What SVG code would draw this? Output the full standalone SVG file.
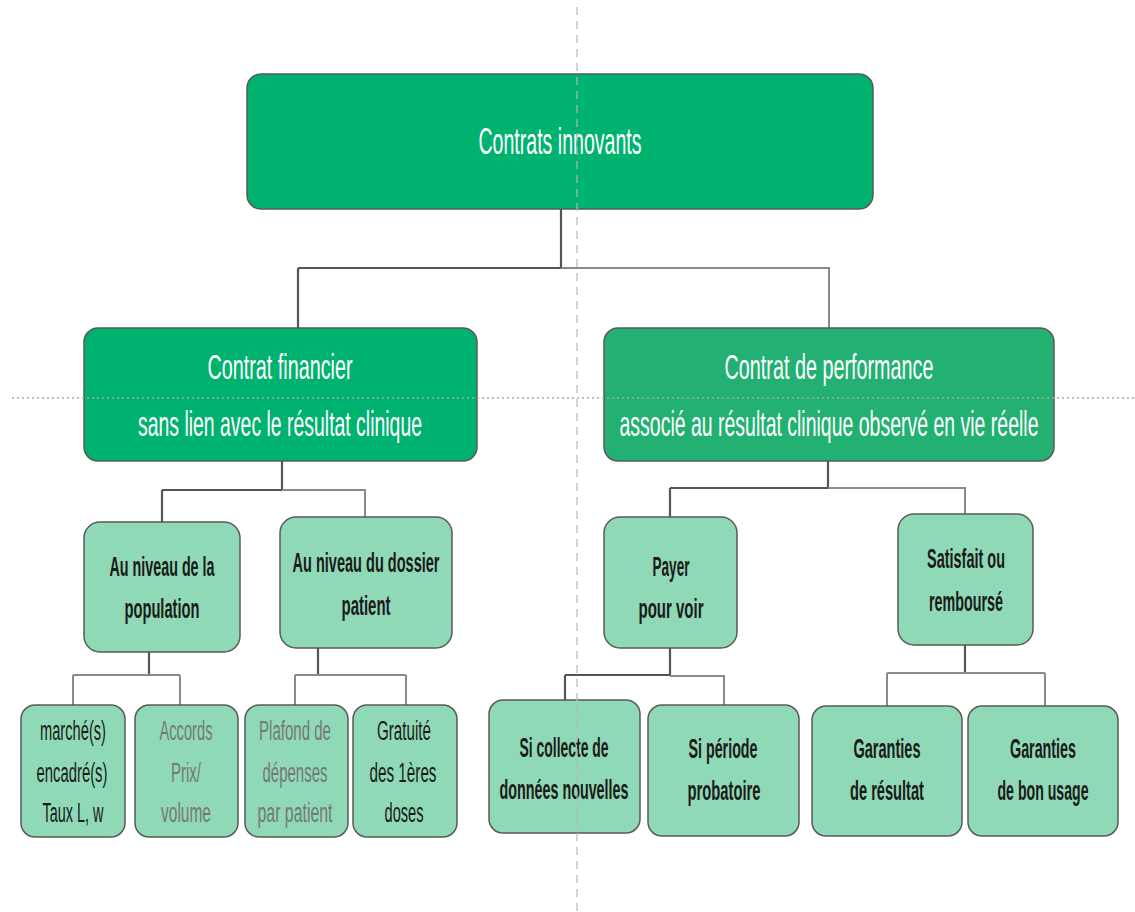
<svg xmlns="http://www.w3.org/2000/svg" width="1135" height="912" viewBox="0 0 1135 912">
<style>
.dk{fill:#00B26F;stroke:#5a5a5a;stroke-width:1.5}
.dk2{fill:#22B172;stroke:#5a5a5a;stroke-width:1.5}
.lt{fill:#8FD9B6;stroke:#5a5a5a;stroke-width:1.5}
.tw{font-family:"Liberation Sans",Arial,sans-serif;fill:#ffffff;text-anchor:middle}
.tb{font-family:"Liberation Sans",Arial,sans-serif;fill:#1a1a1a;text-anchor:middle;font-size:27px;font-weight:bold}
.tr{font-family:"Liberation Sans",Arial,sans-serif;fill:#1a1a1a;text-anchor:middle;font-size:27px}
.tg{font-family:"Liberation Sans",Arial,sans-serif;fill:#777777;text-anchor:middle;font-size:27px}
.ln{fill:none;stroke:#555555;stroke-width:2.2}
.ln2{fill:none;stroke:#8a8a8a;stroke-width:2}
</style>
<rect width="1135" height="912" fill="#ffffff"/>
<g id="connectors">
<path class="ln" d="M561,209 V268 M298,268 H561 M298,268 V328"/>
<path class="ln2" d="M561,268 H829 V328"/>
<path class="ln" d="M282,461 V490 M162,490 H282 M162,490 V522"/>
<path class="ln2" d="M282,490 H365 V517"/>
<path class="ln" d="M828,461 V488 M670,488 H828 M670,488 V517"/>
<path class="ln2" d="M828,488 H965 V514"/>
<path class="ln" d="M149,652 V675"/>
<path class="ln2" d="M73,675 H180 M73,675 V705 M180,675 V705"/>
<path class="ln" d="M318,648 V675"/>
<path class="ln2" d="M295,675 H406 M295,675 V705 M406,675 V705"/>
<path class="ln" d="M670,648 V675 M565,675 H670 M565,675 V700"/>
<path class="ln2" d="M670,676 H724 V705"/>
<path class="ln" d="M965,645 V673"/>
<path class="ln2" d="M887,673 H1045 M887,673 V706 M1045,673 V706"/>
</g>
<g id="n-root"><rect class="dk" x="247" y="74" width="626" height="135" rx="14"/>
<text class="tw" x="560" y="154" font-size="37" textLength="163" lengthAdjust="spacingAndGlyphs">Contrats innovants</text></g>
<g id="n-financier"><rect class="dk" x="84" y="328" width="393" height="133" rx="14"/>
<text class="tw" x="280" y="379" font-size="35" textLength="145" lengthAdjust="spacingAndGlyphs">Contrat financier</text>
<text class="tw" x="280" y="436" font-size="35" textLength="284" lengthAdjust="spacingAndGlyphs">sans lien avec le résultat clinique</text></g>
<g id="n-performance"><rect class="dk2" x="604" y="328" width="450" height="133" rx="14"/>
<text class="tw" x="829" y="379" font-size="35" textLength="209" lengthAdjust="spacingAndGlyphs">Contrat de performance</text>
<text class="tw" x="829" y="436" font-size="35" textLength="419" lengthAdjust="spacingAndGlyphs">associé au résultat clinique observé en vie réelle</text></g>
<g id="n-population"><rect class="lt" x="84" y="522" width="156" height="130" rx="16"/>
<text class="tb" x="162" y="576" textLength="105" lengthAdjust="spacingAndGlyphs">Au niveau de la</text>
<text class="tb" x="162" y="618" textLength="75" lengthAdjust="spacingAndGlyphs">population</text></g>
<g id="n-dossier"><rect class="lt" x="280" y="517" width="172" height="131" rx="16"/>
<text class="tb" x="366" y="572" textLength="147" lengthAdjust="spacingAndGlyphs">Au niveau du  dossier</text>
<text class="tb" x="366" y="615" textLength="49" lengthAdjust="spacingAndGlyphs">patient</text></g>
<g id="n-payer"><rect class="lt" x="604" y="517" width="133" height="131" rx="16"/>
<text class="tb" x="671" y="576" textLength="37" lengthAdjust="spacingAndGlyphs">Payer</text>
<text class="tb" x="671" y="618" textLength="65" lengthAdjust="spacingAndGlyphs">pour voir</text></g>
<g id="n-satisfait"><rect class="lt" x="898" y="514" width="135" height="131" rx="16"/>
<text class="tb" x="966" y="568" textLength="78" lengthAdjust="spacingAndGlyphs">Satisfait ou</text>
<text class="tb" x="966" y="611" textLength="74" lengthAdjust="spacingAndGlyphs">remboursé</text></g>
<g id="n-marche"><rect class="lt" x="21" y="705" width="104" height="132" rx="14"/>
<text class="tr" x="73" y="740" textLength="66" lengthAdjust="spacingAndGlyphs">marché(s)</text>
<text class="tr" x="72" y="782" textLength="71" lengthAdjust="spacingAndGlyphs">encadré(s)</text>
<text class="tr" x="73" y="822" textLength="61" lengthAdjust="spacingAndGlyphs">Taux L, w</text></g>
<g id="n-accords"><rect class="lt" x="135" y="705" width="103" height="132" rx="14"/>
<text class="tg" x="186" y="740" textLength="53" lengthAdjust="spacingAndGlyphs">Accords</text>
<text class="tg" x="186" y="782" textLength="30" lengthAdjust="spacingAndGlyphs">Prix/</text>
<text class="tg" x="186" y="822" textLength="50" lengthAdjust="spacingAndGlyphs">volume</text></g>
<g id="n-plafond"><rect class="lt" x="245" y="705" width="103" height="132" rx="14"/>
<text class="tg" x="295" y="740" textLength="72" lengthAdjust="spacingAndGlyphs">Plafond de</text>
<text class="tg" x="295" y="782" textLength="65" lengthAdjust="spacingAndGlyphs">dépenses</text>
<text class="tg" x="295" y="822" textLength="75" lengthAdjust="spacingAndGlyphs">par patient</text></g>
<g id="n-gratuite"><rect class="lt" x="353" y="705" width="104" height="132" rx="14"/>
<text class="tr" x="404" y="740" textLength="54" lengthAdjust="spacingAndGlyphs">Gratuité</text>
<text class="tr" x="403" y="782" textLength="67" lengthAdjust="spacingAndGlyphs">des 1ères</text>
<text class="tr" x="404" y="822" textLength="39" lengthAdjust="spacingAndGlyphs">doses</text></g>
<g id="n-collecte"><rect class="lt" x="489" y="700" width="151" height="133" rx="14"/>
<text class="tb" x="564" y="757" textLength="89" lengthAdjust="spacingAndGlyphs">Si collecte de</text>
<text class="tb" x="564" y="799" textLength="129" lengthAdjust="spacingAndGlyphs">données nouvelles</text></g>
<g id="n-periode"><rect class="lt" x="648" y="705" width="151" height="131" rx="14"/>
<text class="tb" x="723" y="758" textLength="69" lengthAdjust="spacingAndGlyphs">Si période</text>
<text class="tb" x="724" y="800" textLength="73" lengthAdjust="spacingAndGlyphs">probatoire</text></g>
<g id="n-resultat"><rect class="lt" x="812" y="706" width="150" height="130" rx="14"/>
<text class="tb" x="887" y="758" textLength="67" lengthAdjust="spacingAndGlyphs">Garanties</text>
<text class="tb" x="887" y="800" textLength="74" lengthAdjust="spacingAndGlyphs">de résultat</text></g>
<g id="n-usage"><rect class="lt" x="968" y="706" width="150" height="130" rx="14"/>
<text class="tb" x="1043" y="758" textLength="66" lengthAdjust="spacingAndGlyphs">Garanties</text>
<text class="tb" x="1043" y="800" textLength="91" lengthAdjust="spacingAndGlyphs">de bon usage</text></g>
<g id="guides">
<line x1="12" y1="398" x2="1135" y2="398" stroke="#a8a8a8" stroke-width="1.5" stroke-dasharray="2,3"/>
<line x1="577" y1="7" x2="577" y2="912" stroke="#b8b8b8" stroke-width="1.2" stroke-dasharray="8,6"/>
</g>
</svg>
